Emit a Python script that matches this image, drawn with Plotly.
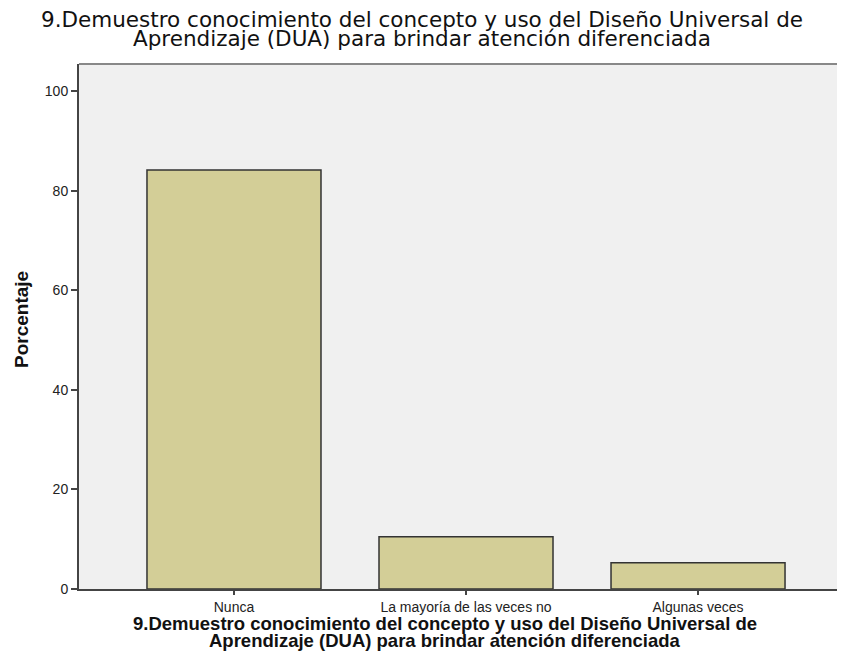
import plotly.graph_objects as go

categorias = ['Nunca', 'La mayoría de las veces no', 'Algunas veces']
porcentajes = [84.2, 10.5, 5.3]
ticks_y = [0, 20, 40, 60, 80, 100]

titulo_l1 = '9.Demuestro conocimiento del concepto y uso del Diseño Universal de'
titulo_l2 = 'Aprendizaje (DUA) para brindar atención diferenciada'

# la pagina deja 8 px de margen alrededor de la figura
W, H = 829, 655
L, T, B = 71, 56, 74
ancho_plot = W - L
alto_plot = H - T - B


def px_x(x_pagina):
    return (x_pagina - 8 - L) / ancho_plot


def px_y(y_pagina):
    return (H - B - (y_pagina - 8)) / alto_plot


fig = go.Figure(go.Bar(
    x=categorias, y=porcentajes,
    marker=dict(color='#d3ce97', line=dict(color='#333333', width=1.5)),
    width=0.75,
))

fig.update_layout(
    width=W, height=H,
    margin=dict(l=L, r=0, t=T, b=B, autoexpand=False),
    paper_bgcolor='white', plot_bgcolor='#f0f0f0',
    font=dict(family='Liberation Sans, Arial, sans-serif', color='#222222'),
    showlegend=False,
)

fig.update_xaxes(
    range=[-0.668, 2.599], showgrid=False, zeroline=False, automargin=False,
    showline=True, linecolor='#444444', linewidth=2,
    ticks='outside', ticklen=4, tickwidth=2, tickcolor='#444444',
    tickfont=dict(size=14, color='#222222'),
)
fig.update_yaxes(
    range=[0, 105.5], tickvals=ticks_y, showgrid=False, zeroline=False, automargin=False,
    showline=True, linecolor='#444444', linewidth=2,
    ticks='outside', ticklen=6, tickwidth=2, tickcolor='#444444',
    tickfont=dict(size=14, color='#222222'),
)

# titulo superior en dos lineas
for texto, ypx in [(titulo_l1, 19), (titulo_l2, 38)]:
    fig.add_annotation(text=texto, xref='paper', yref='paper', x=px_x(422), xanchor='center',
                       y=px_y(ypx), yanchor='middle', showarrow=False,
                       font=dict(family='DejaVu Sans, sans-serif', size=21.5, color='#111111'))

# titulo del eje x en dos lineas
for texto, ypx in [(titulo_l1, 623), (titulo_l2, 640)]:
    fig.add_annotation(text='<b>' + texto + '</b>', xref='paper', yref='paper', x=px_x(445),
                       xanchor='center', y=px_y(ypx), yanchor='middle',
                       showarrow=False, font=dict(size=18.5, color='#111111'))

# titulo del eje y
fig.add_annotation(text='<b>Porcentaje</b>', xref='paper', yref='paper',
                   x=px_x(21), xanchor='center', y=px_y(320), yanchor='middle',
                   textangle=-90, showarrow=False, font=dict(size=19, color='#111111'))

# linea superior del marco
fig.add_shape(type='line', xref='paper', yref='paper', x0=0, x1=1, y0=1, y1=1,
              line=dict(color='#888888', width=2))

fig.write_html('out.html')
